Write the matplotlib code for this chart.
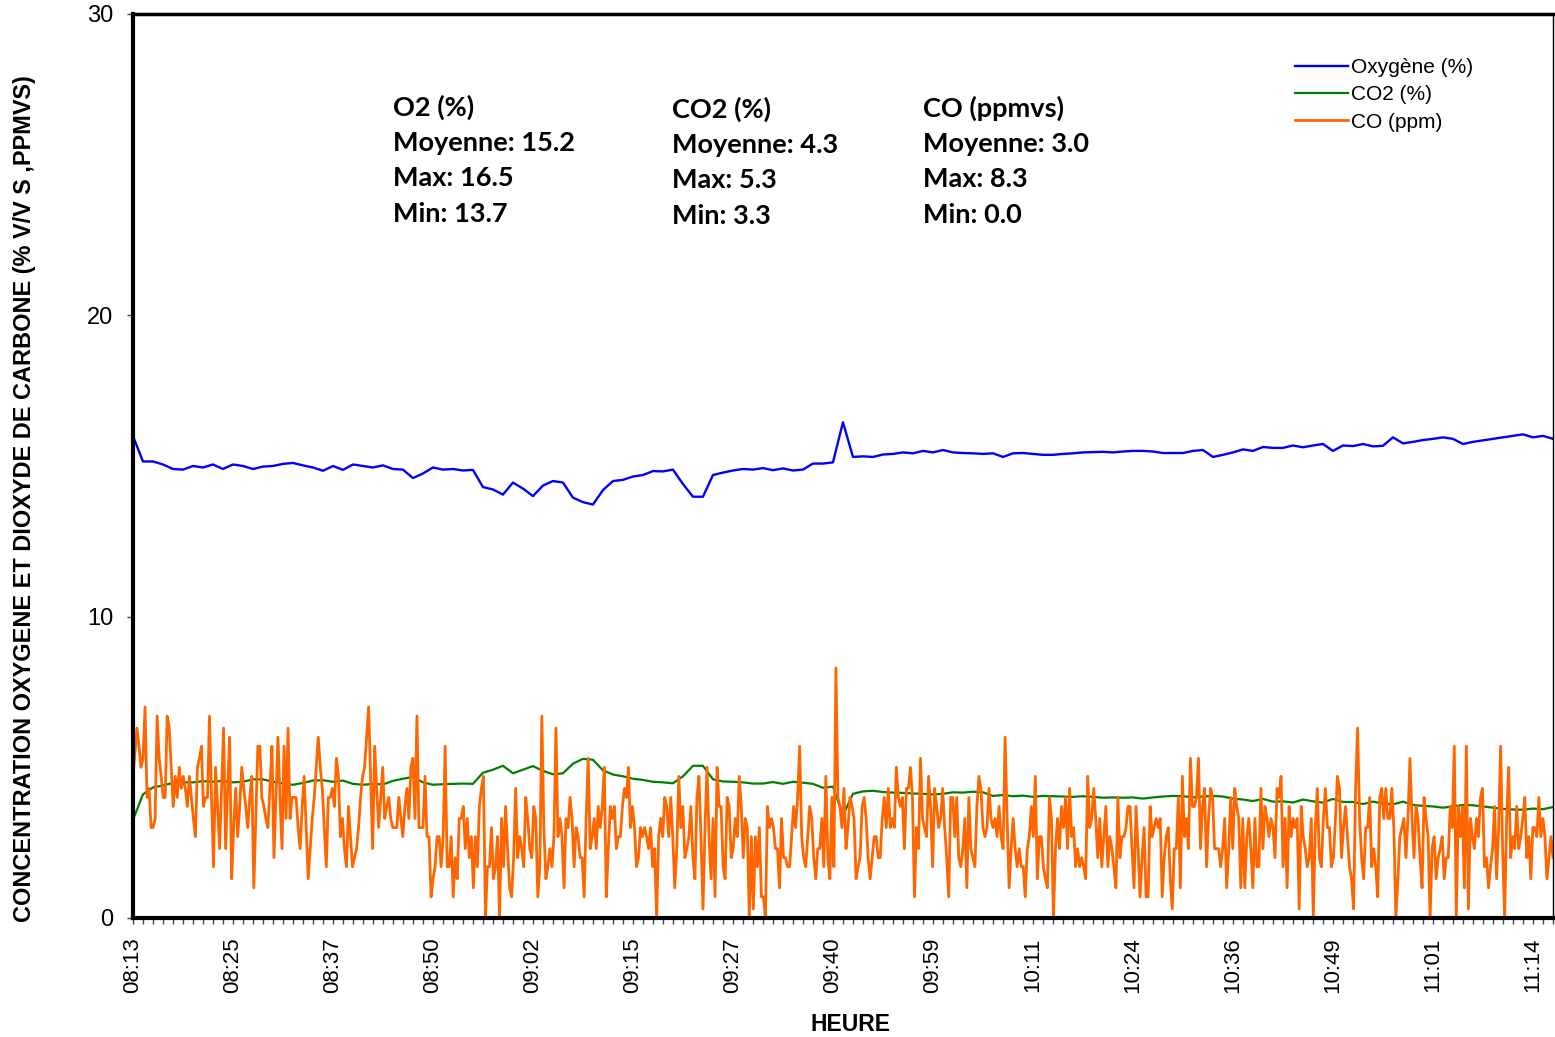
import numpy as np
import matplotlib.pyplot as plt
from matplotlib.ticker import MultipleLocator

plt.rcParams['font.family'] = ['Liberation Sans', 'DejaVu Sans']

# Axe horaire : une mesure toutes les 15 s, une étiquette toutes les 50 mesures
heures = ['08:13', '08:25', '08:37', '08:50', '09:02', '09:15', '09:27', '09:40',
          '09:59', '10:11', '10:24', '10:36', '10:49', '11:01', '11:14']
n_mesures = 710

# Oxygène (%)
o2 = [16.0, 15.15, 15.15, 15.05, 14.9, 14.88, 15.0, 14.95, 15.05, 14.9,
      15.05, 15.0, 14.9, 14.98, 15.0, 15.07, 15.1, 15.02, 14.95, 14.84,
      15.0, 14.87, 15.05, 15.0, 14.95, 15.02, 14.9, 14.88, 14.6, 14.75,
      14.95, 14.88, 14.9, 14.85, 14.87, 14.3, 14.22, 14.05, 14.45, 14.25,
      14.0, 14.35, 14.5, 14.45, 13.95, 13.8, 13.72, 14.2, 14.5, 14.54,
      14.65, 14.7, 14.83, 14.82, 14.88, 14.4, 13.98, 13.98, 14.7, 14.78,
      14.85, 14.9, 14.88, 14.93, 14.86, 14.92, 14.85, 14.88, 15.08, 15.08,
      15.12, 16.45, 15.3, 15.32, 15.3, 15.38, 15.4, 15.45, 15.42, 15.5,
      15.45, 15.53, 15.45, 15.43, 15.42, 15.4, 15.42, 15.3, 15.42, 15.43,
      15.4, 15.37, 15.37, 15.4, 15.42, 15.45, 15.46, 15.47, 15.45, 15.48,
      15.5, 15.5, 15.48, 15.43, 15.43, 15.43, 15.5, 15.53, 15.3, 15.37,
      15.45, 15.55, 15.5, 15.63, 15.6, 15.6, 15.68, 15.62, 15.68, 15.73,
      15.5, 15.68, 15.66, 15.73, 15.65, 15.67, 15.95, 15.75, 15.8, 15.86,
      15.9, 15.95, 15.9, 15.73, 15.8, 15.85, 15.9, 15.95, 16.0, 16.05,
      15.95, 16.0, 15.9]

# CO2 (%)
co2 = [3.25, 4.1, 4.33, 4.4, 4.48, 4.5, 4.5, 4.54, 4.52, 4.55,
       4.5, 4.52, 4.6, 4.6, 4.52, 4.47, 4.42, 4.48, 4.56, 4.57,
       4.52, 4.56, 4.45, 4.42, 4.45, 4.43, 4.55, 4.62, 4.68, 4.5,
       4.42, 4.44, 4.45, 4.46, 4.45, 4.82, 4.92, 5.05, 4.8, 4.92,
       5.04, 4.88, 4.77, 4.8, 5.12, 5.28, 5.25, 4.9, 4.76, 4.7,
       4.62, 4.58, 4.52, 4.5, 4.47, 4.7, 5.05, 5.05, 4.6, 4.53,
       4.52, 4.5, 4.46, 4.46, 4.51, 4.45, 4.52, 4.49, 4.45, 4.32,
       4.36, 3.4, 4.12, 4.2, 4.22, 4.18, 4.16, 4.15, 4.13, 4.12,
       4.1, 4.12, 4.17, 4.16, 4.19, 4.17, 4.05, 4.08, 4.04, 4.06,
       4.02, 4.05, 4.04, 4.03, 4.02, 4.04, 4.02, 3.99, 4.0, 3.99,
       4.0, 3.96, 4.0, 4.03, 4.05, 4.04, 4.0, 4.03, 4.05, 4.03,
       3.96, 3.93, 3.88, 3.95, 3.86, 3.87, 3.83, 3.93, 3.87, 3.83,
       3.95, 3.85, 3.85, 3.78, 3.86, 3.8, 3.77, 3.86, 3.75, 3.72,
       3.7, 3.66, 3.7, 3.75, 3.74, 3.7, 3.66, 3.62, 3.6, 3.59,
       3.63, 3.61, 3.68]

# CO (ppm)
co = [4.7, 5.5, 6.3, 5.7, 5.0, 5.3, 7.0, 4.0, 4.3, 3.0, 3.0, 3.3, 6.7, 5.3, 4.7, 4.0, 4.0, 6.7, 6.3, 5.0,
      3.7, 4.7, 4.0, 5.0, 4.3, 4.7, 4.3, 3.7, 4.7, 4.0, 3.3, 2.7, 5.0, 5.3, 5.7, 3.7, 4.0, 4.0, 6.7, 4.0,
      1.7, 5.0, 3.7, 2.3, 4.3, 6.3, 2.3, 4.3, 6.0, 1.3, 3.0, 4.3, 2.7, 3.7, 5.0, 4.3, 3.7, 3.0, 4.0, 4.7,
      1.0, 3.3, 5.7, 5.7, 4.0, 3.7, 3.3, 3.0, 4.3, 5.7, 2.0, 4.0, 6.0, 4.0, 2.3, 5.7, 3.3, 6.3, 3.3, 4.0,
      4.0, 4.0, 3.0, 2.3, 3.7, 4.7, 3.0, 1.3, 2.3, 3.3, 4.0, 5.0, 6.0, 5.0, 4.3, 3.0, 1.7, 4.0, 4.0, 4.3,
      3.7, 5.3, 4.7, 2.7, 3.3, 2.3, 1.7, 3.7, 2.7, 1.7, 2.0, 2.3, 3.0, 4.0, 4.7, 5.0, 6.0, 7.0, 4.7, 2.3,
      5.7, 4.3, 3.0, 4.0, 5.0, 3.3, 3.7, 4.0, 3.3, 3.0, 3.0, 3.0, 4.0, 3.3, 2.7, 3.7, 4.3, 3.3, 5.0, 5.3,
      3.3, 6.7, 3.0,
      3.0, 3.0, 4.7, 2.7, 2.7, 0.7, 1.3, 1.7, 2.7, 2.7, 1.7, 2.7, 5.7, 1.7, 1.7, 2.7, 0.7, 2.0, 1.3, 3.3,
      3.3, 3.7, 2.3, 3.3, 2.0, 2.7, 1.0, 2.7, 1.7, 3.7, 4.3, 4.7, 0.0, 1.7, 1.7, 3.0, 1.3, 1.7, 2.7, 0.0,
      3.3, 1.7, 3.7, 2.3, 1.0, 0.7, 2.0, 4.3, 2.0, 2.7, 2.3, 1.7, 4.0, 3.3, 2.3, 2.0, 3.7, 3.3, 0.7, 1.7,
      6.7, 3.0, 1.3, 1.7, 2.3, 1.7, 2.7, 6.3, 2.7, 3.3, 2.7, 1.0, 3.3, 3.0, 4.0, 3.3, 1.7, 3.0, 2.7, 2.0,
      2.0, 0.7, 3.3, 5.3, 2.3, 2.7, 3.3, 2.3, 3.7, 3.0, 3.7, 5.0, 0.7, 2.3, 3.7, 3.3, 3.7, 2.3, 2.7, 2.7,
      3.7, 4.3, 4.0, 5.0, 3.0, 3.7, 3.0, 1.7, 2.0, 3.0, 2.7, 3.0, 2.7, 2.3, 3.0, 1.7, 2.3, 0.0, 2.7, 3.3,
      2.7, 4.0, 3.7, 2.7, 4.0, 2.7, 1.0, 2.3, 4.7, 3.0, 3.7, 2.0, 2.3, 2.7, 3.7, 2.0, 1.3, 4.0,
      4.7, 2.7, 0.3, 3.0, 5.0, 2.7, 1.3, 3.3, 0.7, 5.0, 3.7, 3.7, 1.7, 1.3, 4.0, 3.7, 2.0, 2.3, 3.3, 2.7,
      4.7, 3.7, 2.0, 3.3, 3.0, 0.0, 2.7, 0.3, 2.7, 1.7, 3.0, 0.7, 0.7, 0.0, 3.7, 3.0, 3.3, 3.0, 2.3, 2.3,
      1.0, 3.3, 2.0, 2.0, 1.7, 1.7, 2.7, 3.7, 3.0, 4.0, 5.7, 2.7, 2.0, 1.7, 2.7, 3.7, 3.3, 2.0, 1.3, 2.3,
      2.3, 3.3, 1.7, 4.7, 2.0, 1.3, 4.0, 1.7, 8.3, 4.0, 3.7, 3.0, 4.3, 2.3, 3.0, 4.0, 3.7, 3.3, 1.3, 1.7,
      2.0, 3.7, 4.0, 3.3, 2.0, 1.3, 2.0, 2.7, 2.7, 2.0, 2.0, 3.3, 4.0, 3.0, 4.3, 3.0, 3.3, 3.0, 5.0, 4.0,
      3.7, 4.0, 2.3, 4.3, 4.3, 5.0, 4.0, 0.7, 3.0, 2.3, 5.3, 3.3, 3.0, 2.7, 4.7, 3.7, 1.7, 4.3, 3.7, 3.0,
      3.3, 4.3, 3.0, 2.0, 0.7, 4.0, 4.0, 2.7, 4.0, 2.0, 1.7, 2.3, 3.3, 1.0, 4.0, 2.3, 2.0, 1.7, 3.7, 4.7,
      4.3, 3.0, 2.7,
      3.0, 4.3, 3.3, 3.0, 3.3, 2.7, 3.7, 2.7, 2.3, 6.0, 3.3, 1.0, 2.3, 3.3, 2.3, 1.7, 2.3, 1.7, 1.7, 0.7,
      2.3, 2.7, 3.7, 2.7, 4.7, 1.3, 2.7, 2.7, 1.7, 1.3, 1.0, 4.0, 3.3, 0.0, 2.3, 3.3, 2.3, 3.7, 3.0, 4.0,
      2.3, 4.3, 2.7, 3.0, 1.7, 2.3, 1.7, 2.0, 1.7, 1.3, 4.7, 3.0, 3.3, 4.3, 3.3, 2.0, 3.3, 1.7, 2.7, 3.7,
      1.7, 2.7, 2.3, 1.7, 1.0, 4.0, 2.0, 2.7, 2.7, 3.0, 3.7, 3.7, 2.3, 1.0, 3.7, 2.3, 0.7, 2.0, 3.0, 0.7,
      0.7, 3.7, 2.7, 3.0, 3.3, 3.0, 3.3, 0.7, 2.0, 2.7, 3.0, 1.3, 0.3, 2.3, 2.3, 4.0, 1.0, 4.7, 2.7, 3.3,
      2.3, 5.3, 3.7, 3.7, 4.0, 5.3, 2.3, 3.7, 4.3, 1.7, 3.3, 4.3, 4.0, 2.3, 2.3, 2.3, 1.7, 2.3, 3.3, 1.0,
      2.3, 4.0, 2.3, 4.3, 3.7, 3.3, 1.0, 3.3, 1.0, 2.7, 3.3, 2.3, 1.0, 3.3, 1.7, 1.7, 4.3, 2.3, 3.7, 3.3,
      2.7, 3.3,
      3.0, 2.0, 4.3, 4.0, 4.7, 1.7, 3.3, 1.0, 3.7, 2.7, 3.3, 3.0, 3.3, 0.3, 3.7, 2.7, 2.3, 1.7, 2.0, 3.3,
      0.0, 3.0, 4.3, 2.0, 1.7, 3.3, 4.3, 3.0, 3.0, 1.7, 2.0, 3.3, 4.7, 4.3, 2.0, 3.0, 3.7, 2.7, 1.7, 1.3,
      0.3, 4.3, 6.3, 3.3, 2.0, 1.3, 3.0, 3.0, 4.0, 1.7, 2.3, 1.7, 0.7, 4.0, 4.3, 3.3, 4.3, 3.3, 3.3, 4.3,
      3.0, 0.0, 1.3, 2.7, 3.0, 3.3, 2.0, 3.3, 5.3, 3.3, 2.0, 3.7, 3.3, 2.0, 1.0, 4.0, 3.3, 2.7, 0.0, 2.3,
      2.7, 1.3, 2.0, 2.3, 2.7, 1.3, 2.0, 2.0, 3.7, 3.0, 5.7, 0.0, 3.7, 2.7, 3.7, 1.0, 5.7, 0.3, 3.3, 2.7,
      2.3, 3.3, 2.7, 4.0, 4.3, 1.7, 2.0, 1.0, 1.7, 2.3, 3.7, 1.3, 3.0, 5.7, 2.3, 0.0, 3.3, 5.0, 2.0, 2.7,
      2.3, 3.7, 2.3, 2.7, 3.3, 4.0, 2.0, 2.7, 1.3, 3.0, 3.0, 2.7, 4.0, 2.7, 3.3, 2.7, 1.3, 2.0, 2.7, 2.0]

x_o2 = np.linspace(0, n_mesures, len(o2))
x_co2 = np.linspace(0, n_mesures, len(co2))
x_co = np.linspace(0, n_mesures, len(co))

fig = plt.figure(figsize=(15.55, 10.37), dpi=100)
ax = fig.add_axes([0.0855, 0.1148, 0.9132, 0.8717])

ax.plot(x_o2, o2, color='#0000FF', linewidth=1.7, label='Oxygène (%)')
ax.plot(x_co2, co2, color='#008000', linewidth=1.6, label='CO2 (%)')
ax.plot(x_co, co, color='#FF6600', linewidth=2.0, label='CO (ppm)')

ax.set_xlim(0, n_mesures)
ax.set_ylim(0, 30)
ax.set_yticks([0, 10, 20, 30])
ax.set_xticks(np.arange(0, 50 * len(heures), 50))
ax.set_xticklabels(heures, rotation=90)
ax.xaxis.set_minor_locator(MultipleLocator(5))
ax.tick_params(axis='x', which='both', direction='out', length=4, width=1,
               color='#444444', labelsize=16, pad=10)
ax.tick_params(axis='y', direction='out', length=4, width=1,
               color='#444444', labelsize=17, pad=10)

for cote, ep in [('left', 3.0), ('bottom', 3.0), ('top', 2.5), ('right', 1.0)]:
    ax.spines[cote].set_linewidth(ep)
    ax.spines[cote].set_color('black')

ax.set_xlabel('HEURE', fontsize=16.5, fontweight='bold')
ax.xaxis.set_label_coords(0.5056, -0.105)
ax.set_ylabel('CONCENTRATION OXYGENE ET DIOXYDE DE CARBONE (% V/V S ,PPMVS)',
              fontsize=16.9, fontweight='bold')
ax.yaxis.set_label_coords(-0.068, 0.4635)

ax.legend(loc='upper left', bbox_to_anchor=(1295 / 1555, 1 - 58 / 1037),
          bbox_transform=fig.transFigure, frameon=False, fontsize=15,
          handlelength=2.55, handletextpad=0.15, labelspacing=0.4,
          borderpad=0, borderaxespad=0)

# Statistiques
blocs = [
    (393, 107, ['O2 (%)', 'Moyenne: 15.2', 'Max: 16.5', 'Min: 13.7']),
    (672, 109, ['CO2 (%)', 'Moyenne: 4.3', 'Max: 5.3', 'Min: 3.3']),
    (923, 108, ['CO (ppmvs)', 'Moyenne: 3.0', 'Max: 8.3', 'Min: 0.0']),
]
for x0, y0, lignes in blocs:
    for i, txt in enumerate(lignes):
        fig.text(x0 / 1555, 1 - (y0 + i * 35.7) / 1037, txt, ha='left', va='center',
                 fontsize=19.5, fontweight='bold', family=['Lato', 'DejaVu Sans'])

plt.savefig('out.png', dpi=100)
plt.close()
